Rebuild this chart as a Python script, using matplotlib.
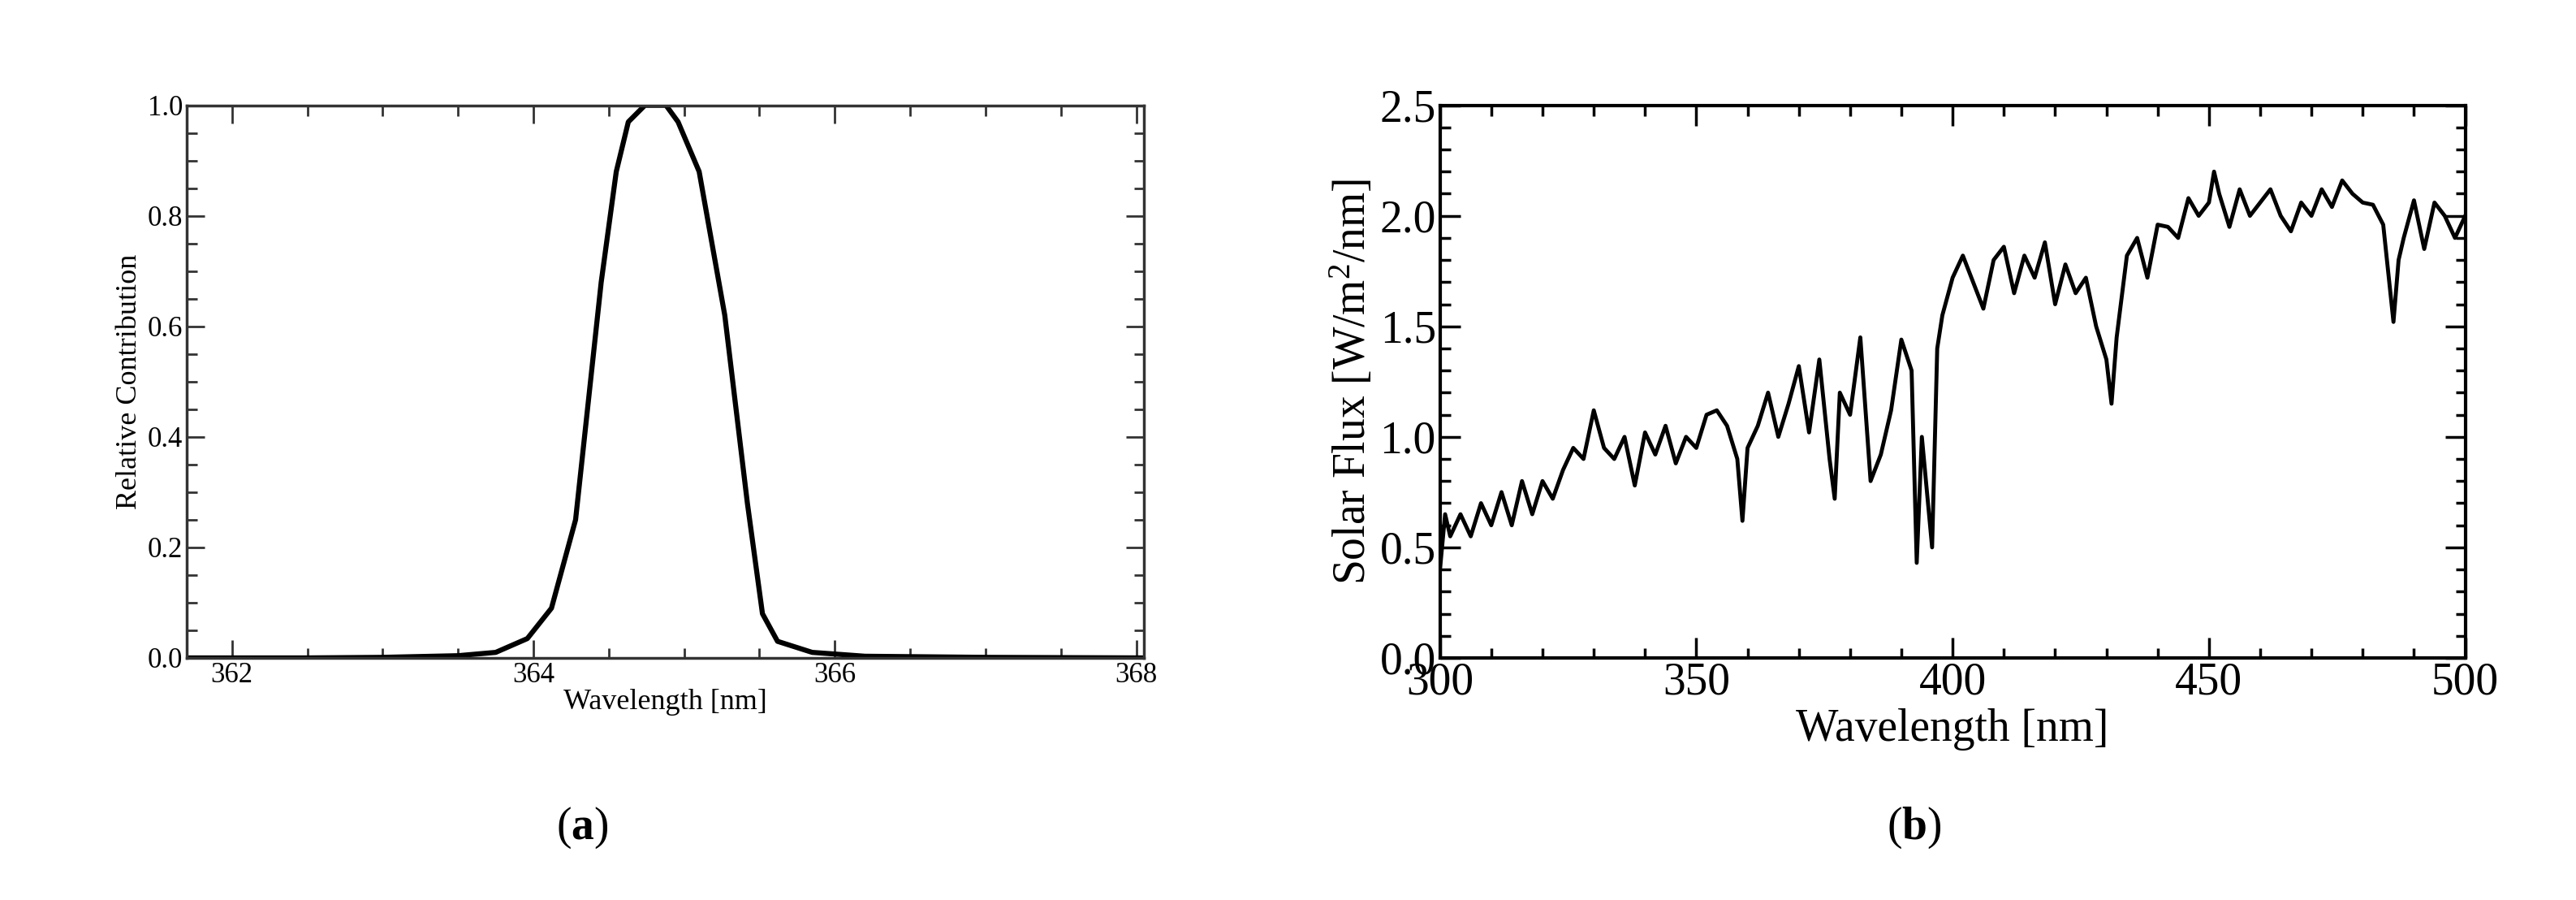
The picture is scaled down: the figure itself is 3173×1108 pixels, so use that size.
import matplotlib
matplotlib.use("Agg")
import matplotlib.pyplot as plt
from matplotlib.ticker import MultipleLocator, FormatStrFormatter

plt.rcParams['font.family'] = ['Liberation Serif', 'DejaVu Serif']
plt.rcParams['mathtext.fontset'] = 'custom'
plt.rcParams['mathtext.rm'] = 'Liberation Serif'
plt.rcParams['mathtext.bf'] = 'Liberation Serif:bold'
plt.rcParams['mathtext.it'] = 'Liberation Serif:italic'

# (a) instrument function
wl_a = [361.7, 362.5, 363.0, 363.5, 363.75, 363.96, 364.12, 364.28, 364.45, 364.55, 364.63,
        364.74, 364.88, 364.96, 365.1, 365.27, 365.42, 365.52, 365.62, 365.85, 366.2, 367.0, 368.05]
rel_a = [0.0, 0.0, 0.001, 0.004, 0.01, 0.035, 0.09, 0.25, 0.68, 0.88, 0.97,
         1.0, 1.0, 0.97, 0.88, 0.62, 0.28, 0.08, 0.03, 0.01, 0.003, 0.001, 0.0]

# (b) solar flux
wl_b = [300, 301, 302, 304, 306, 308, 310, 312, 314, 316, 318, 320, 322, 324, 326, 328, 330, 332,
        334, 336, 338, 340, 342, 344, 346, 348, 350, 352, 354, 356, 358, 359, 360, 362, 364, 366,
        368, 370, 372, 374, 376, 377, 378, 380, 382, 384, 386, 388, 390, 392, 393, 394, 396, 397,
        398, 400, 402, 404, 406, 408, 410, 412, 414, 416, 418, 420, 422, 424, 426, 428, 430, 431,
        432, 434, 436, 438, 440, 442, 444, 446, 448, 450, 451, 452, 454, 456, 458, 460, 462, 464,
        466, 468, 470, 472, 474, 476, 478, 480, 482, 484, 486, 487, 488, 490, 492, 494, 496, 498, 500]
flux_b = [0.4, 0.65, 0.55, 0.65, 0.55, 0.7, 0.6, 0.75, 0.6, 0.8, 0.65, 0.8, 0.72, 0.85, 0.95, 0.9,
          1.12, 0.95, 0.9, 1.0, 0.78, 1.02, 0.92, 1.05, 0.88, 1.0, 0.95, 1.1, 1.12, 1.05, 0.9, 0.62,
          0.95, 1.05, 1.2, 1.0, 1.15, 1.32, 1.02, 1.35, 0.9, 0.72, 1.2, 1.1, 1.45, 0.8, 0.92, 1.12,
          1.44, 1.3, 0.43, 1.0, 0.5, 1.4, 1.55, 1.72, 1.82, 1.7, 1.58, 1.8, 1.86, 1.65, 1.82, 1.72,
          1.88, 1.6, 1.78, 1.65, 1.72, 1.5, 1.35, 1.15, 1.45, 1.82, 1.9, 1.72, 1.96, 1.95, 1.9,
          2.08, 2.0, 2.06, 2.2, 2.1, 1.95, 2.12, 2.0, 2.06, 2.12, 2.0, 1.93, 2.06, 2.0, 2.12, 2.04,
          2.16, 2.1, 2.06, 2.05, 1.96, 1.52, 1.8, 1.9, 2.07, 1.85, 2.06, 2.0, 1.9, 2.0]

fig = plt.figure(figsize=(31.73, 11.08), dpi=100)

ax1 = fig.add_axes([0.0725, 0.269, 0.3715, 0.614])
ax1.plot(wl_a, rel_a, color='black', lw=4.5)
ax1.set_xlim(361.7, 368.05)
ax1.set_ylim(0, 1.0)
ax1.xaxis.set_major_locator(MultipleLocator(2))
ax1.xaxis.set_minor_locator(MultipleLocator(0.5))
ax1.yaxis.set_major_locator(MultipleLocator(0.2))
ax1.yaxis.set_minor_locator(MultipleLocator(0.05))
ax1.tick_params(which='both', direction='in', top=True, right=True, labelsize=25, color='#333333')
ax1.tick_params(which='major', length=16, width=2)
ax1.tick_params(which='minor', length=9, width=2)
ax1.yaxis.set_major_formatter(FormatStrFormatter('%.1f'))
ax1.set_xlabel('Wavelength [nm]', fontsize=26, labelpad=0)
ax1.set_ylabel('Relative Contribution', fontsize=26)
for s in ax1.spines.values():
    s.set_linewidth(2.5); s.set_color('#333333')

ax2 = fig.add_axes([0.559, 0.269, 0.398, 0.614])
ax2.plot(wl_b, flux_b, color='black', lw=3.5)
ax2.set_xlim(300, 500)
ax2.set_ylim(0, 2.5)
ax2.xaxis.set_major_locator(MultipleLocator(50))
ax2.xaxis.set_minor_locator(MultipleLocator(10))
ax2.yaxis.set_major_locator(MultipleLocator(0.5))
ax2.yaxis.set_minor_locator(MultipleLocator(0.1))
ax2.yaxis.set_major_formatter(FormatStrFormatter('%.1f'))
ax2.tick_params(which='both', direction='in', top=True, right=True, labelsize=40)
ax2.tick_params(which='major', length=18, width=2.5)
ax2.tick_params(which='minor', length=9, width=2.5)
ax2.set_xlabel('Wavelength [nm]', fontsize=40, labelpad=4)
ax2.set_ylabel('Solar Flux [W/m$^2$/nm]', fontsize=40)
for s in ax2.spines.values():
    s.set_linewidth(3)

fig.text(0.226, 0.08, r'($\mathbf{a}$)', fontsize=40, ha='center', va='center')
fig.text(0.743, 0.08, r'($\mathbf{b}$)', fontsize=40, ha='center', va='center')

fig.savefig('out.png', dpi=100)
